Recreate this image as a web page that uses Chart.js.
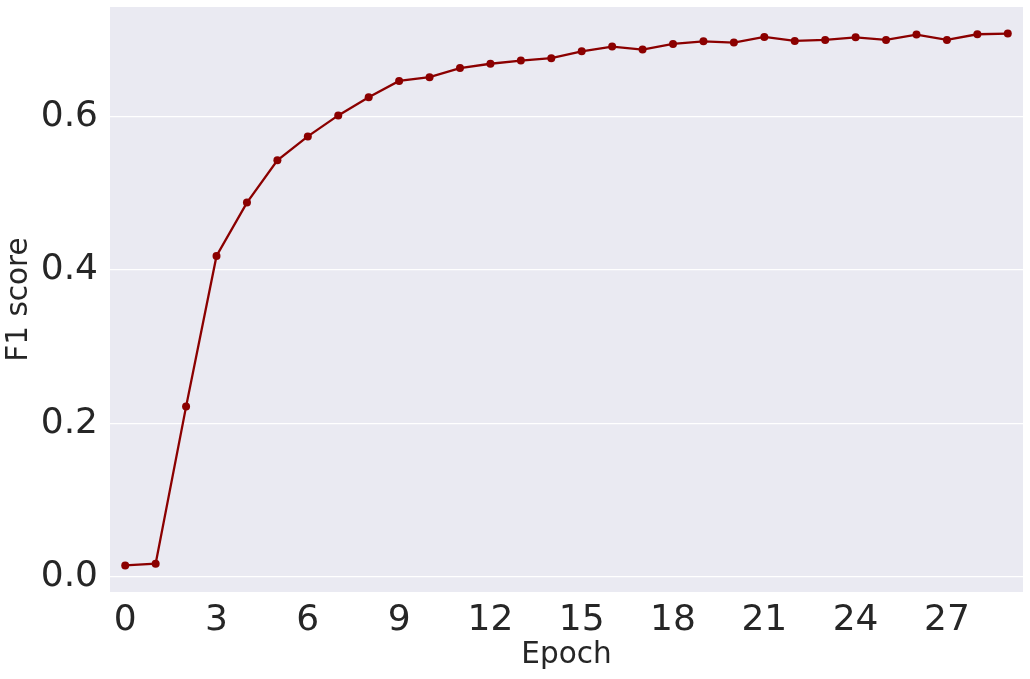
<!DOCTYPE html>
<html>
<head>
<meta charset="utf-8">
<script src="https://cdn.jsdelivr.net/npm/chart.js@4"></script>
<style>
html,body{margin:0;padding:0;background:#fff;}
#wrap{width:1030px;height:679px;}
</style>
</head>
<body>
<div id="wrap"><canvas id="c" width="1030" height="679"></canvas></div>
<script>
const epochs = [0,1,2,3,4,5,6,7,8,9,10,11,12,13,14,15,16,17,18,19,20,21,22,23,24,25,26,27,28,29];
const f1Scores = [0.0143,0.0166,0.2217,0.4185,0.4882,0.5433,0.5746,0.6020,0.6258,0.6470,0.6520,0.6638,0.6695,0.6736,0.6767,0.6858,0.6919,0.6880,0.6954,0.6988,0.6971,0.7045,0.6993,0.7006,0.7040,0.7006,0.7076,0.7006,0.7080,0.7089];
const xTickValues = [0,3,6,9,12,15,18,21,24,27];
const yTickValues = [0.0,0.2,0.4,0.6];

const bgPlugin = {
  id: 'plotBg',
  beforeDraw(chart) {
    const {ctx, chartArea: a} = chart;
    ctx.save();
    ctx.fillStyle = '#EAEAF2';
    ctx.fillRect(a.left, a.top, a.right - a.left, a.bottom - a.top);
    ctx.restore();
  }
};

const textColor = '#262626';
const fontFamily = '"DejaVu Sans", sans-serif';

new Chart(document.getElementById('c'), {
  type: 'line',
  data: {
    datasets: [{
      data: epochs.map((e, i) => ({x: e, y: f1Scores[i]})),
      borderColor: '#8B0000',
      backgroundColor: '#8B0000',
      borderWidth: 2.3,
      pointRadius: 4,
      pointBorderWidth: 0,
      pointBackgroundColor: '#8B0000',
      tension: 0,
      clip: false
    }]
  },
  options: {
    responsive: false,
    animation: false,
    devicePixelRatio: 1,
    layout: {padding: {top: 7, right: 7, left: 0, bottom: 0}},
    plugins: {legend: {display: false}, tooltip: {enabled: false}},
    scales: {
      x: {
        type: 'linear',
        min: -0.5,
        max: 29.5,
        afterBuildTicks(scale) { scale.ticks = xTickValues.map(v => ({value: v})); },
        afterFit(scale) { scale.height = 87; scale.paddingLeft = 0; scale.paddingRight = 0; },
        grid: {display: false, drawTicks: false},
        border: {display: false},
        ticks: {
          color: textColor,
          font: {family: fontFamily, size: 36},
          padding: 7,
          maxRotation: 0,
          autoSkip: false,
          callback: v => String(v)
        },
        title: {
          display: true,
          text: 'Epoch',
          color: textColor,
          font: {family: fontFamily, size: 29.5},
          padding: {top: 0, bottom: 6}
        }
      },
      y: {
        type: 'linear',
        min: -0.0204,
        max: 0.7436,
        afterBuildTicks(scale) { scale.ticks = yTickValues.map(v => ({value: v})); },
        afterFit(scale) { scale.width = 110; scale.paddingTop = 0; scale.paddingBottom = 0; },
        grid: {color: '#FFFFFF', lineWidth: 1.2, drawTicks: false},
        border: {display: false},
        ticks: {
          color: textColor,
          font: {family: fontFamily, size: 36},
          padding: 12,
          autoSkip: false,
          callback: v => Number(v).toFixed(1)
        },
        title: {
          display: true,
          text: 'F1 score',
          color: textColor,
          font: {family: fontFamily, size: 29.5},
          padding: {top: 2, bottom: 0}
        }
      }
    }
  },
  plugins: [bgPlugin]
});
</script>
</body>
</html>
